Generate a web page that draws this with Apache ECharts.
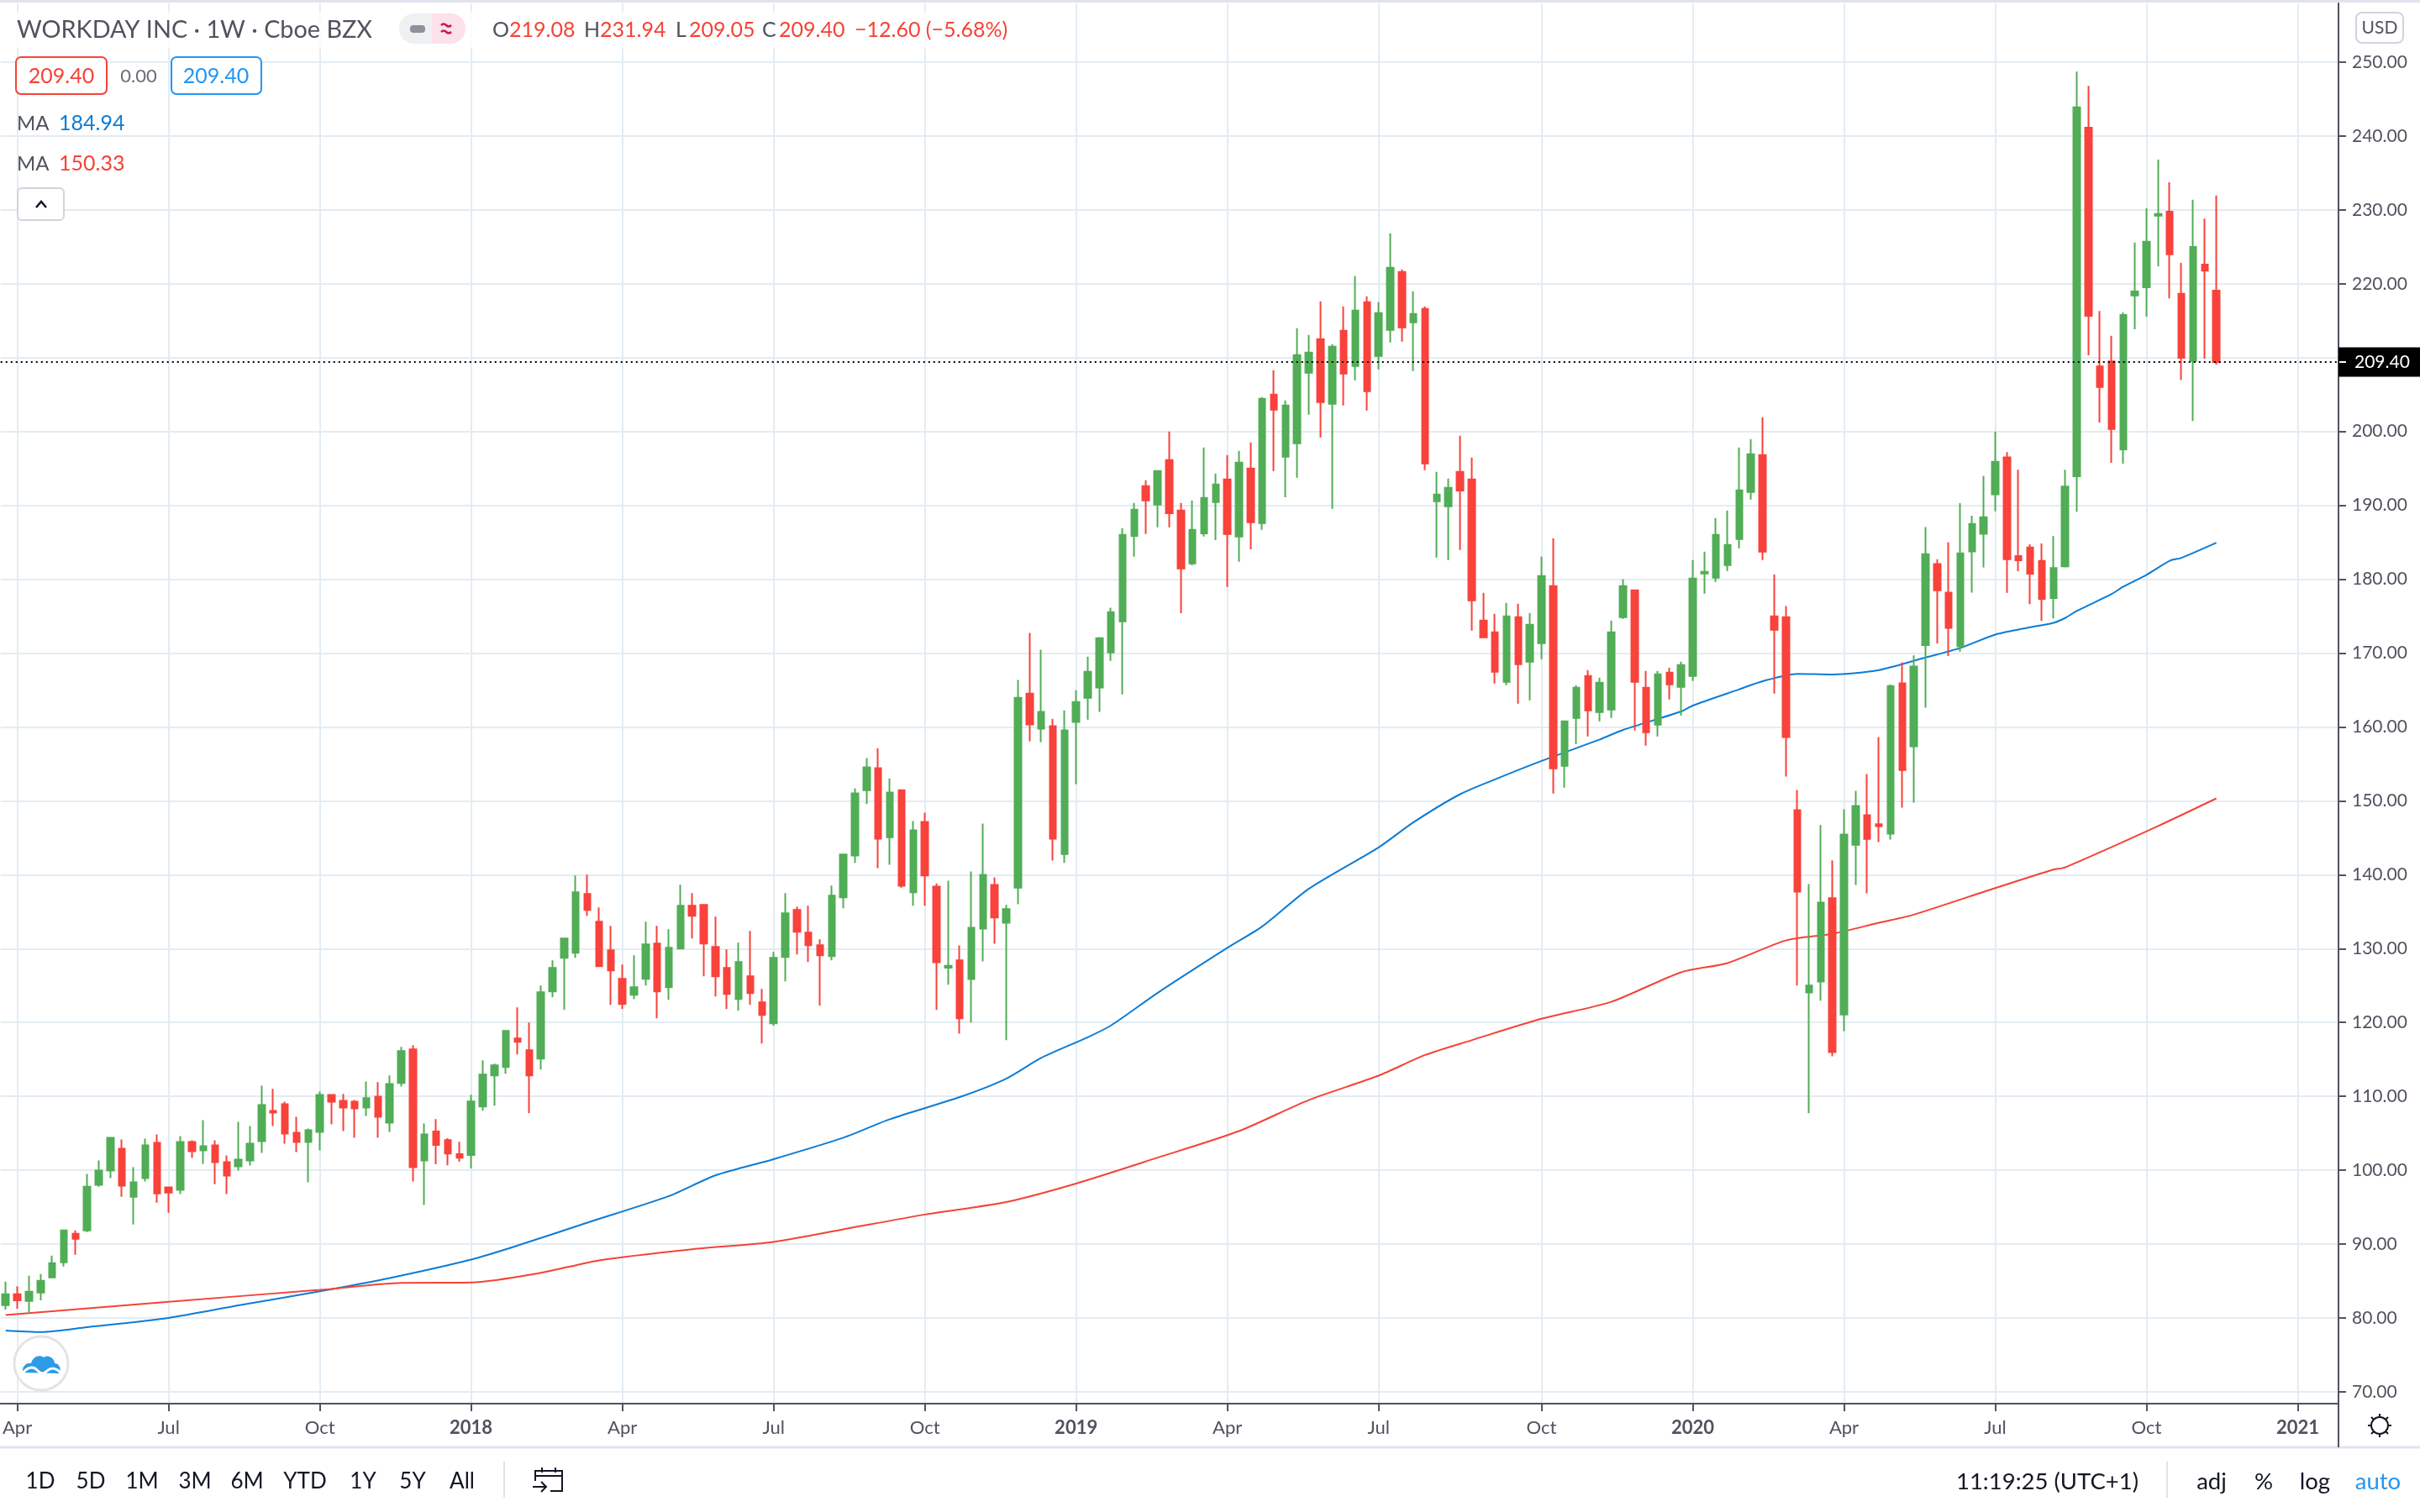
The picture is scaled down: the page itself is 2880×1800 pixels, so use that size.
<!DOCTYPE html>
<html>
<head>
<meta charset="utf-8">
<style>html,body{margin:0;padding:0;background:#fff}#c{width:2880px;height:1800px}</style>
<script src="https://cdn.jsdelivr.net/npm/echarts@6/dist/echarts.min.js"></script>
</head>
<body>
<div id="c"></div>
<script>
const opens = [
81.72,83.2,82.29,83.43,85.48,87.53,91.4,91.86,98.01,99.95,
102.91,96.41,98.92,103.71,97.67,97.33,103.82,102.68,103.37,101.09,
100.52,101.31,103.93,108.04,108.95,105.07,103.82,105.19,110.2,109.4,
109.29,108.49,109.97,106.44,111.8,116.35,101.31,105.23,104.09,102.16,
102.05,108.64,112.84,113.98,117.84,116.25,115.11,124.2,128.75,129.43,
137.39,133.64,129.77,125.91,123.75,125.91,130.68,124.77,130,135.8,
135.91,130.23,127.39,123.18,126.25,122.73,119.89,128.86,135.23,132.16,
130.45,128.98,136.93,142.61,151.45,154.42,145.08,151.45,137.61,147.15,
138.39,127.43,128.4,125.88,132.7,138.63,133.51,138.26,164.52,159.77,
160.1,142.81,160.67,163.95,165.33,170.08,174.3,185.88,192.59,190.09,
196.12,189.3,182.13,186.22,190.43,193.5,185.77,194.98,187.59,204.99,
196.57,198.39,207.95,212.49,203.74,213.63,208.86,217.5,210.22,213.75,
221.59,214.77,216.59,190.55,189.87,194.53,193.52,174.41,172.82,166.11,
174.87,168.84,171.34,179.08,154.74,161.22,166.91,162.02,162.36,174.87,
178.51,165.32,160.31,167.36,165.43,166.91,180.78,180.21,181.92,185.44,
191.81,196.82,174.98,174.87,148.75,124.06,125.55,136.82,121.09,144.06,
148.05,146.84,145.55,165.92,157.38,171.07,182.05,178.2,170.9,183.75,
186.15,191.5,196.5,183.13,184.29,182.47,177.45,181.75,193.94,241.12,
208.82,209.48,197.57,218.41,219.52,229.22,229.77,218.63,209.54,222.6,
219.08];
const highs = [
84.91,84.3,85.7,85.93,88.44,91.97,91.86,99.49,101.31,104.5,
104.16,100.4,104.28,104.85,97.78,104.62,104.05,106.78,104.05,102,
106.56,105.99,111.45,111,109.29,107.24,105.64,110.66,110.2,110.32,
109.52,112.02,111.91,112.82,116.7,116.92,106.33,106.93,104.32,103.86,
110.23,114.89,114.43,118.86,122.05,120,125,128.41,131.36,139.89,
140,135.57,133.07,127.84,129.09,133.64,133.07,132.61,138.64,137.5,
136.02,134.32,129.89,130.8,132.39,124.55,129.55,137.5,135.68,135.8,
131.25,138.52,142.84,151.7,155.8,157.13,153.04,151.45,147.27,148.41,
138.83,139.2,130.43,140.45,146.91,139.64,135.91,166.35,172.72,170.45,
161.11,162.25,164.97,169.51,172.15,176.13,186.91,190.32,193.39,194.75,
200,190.32,190.66,197.82,194.3,196.8,197.37,198.51,204.65,208.29,
204.19,213.97,213.06,217.61,211.81,216.93,221.02,218.29,217.5,226.82,
221.93,218.98,216.93,194.53,193.62,199.42,196.47,178.17,175.32,176.8,
176.69,175.44,183.06,185.56,160.88,165.66,167.7,166.68,174.41,180,
178.62,167.59,167.59,168,168.84,182.6,183.74,188.29,189.31,197.84,
198.98,201.93,180.67,176.36,151.48,138.72,146.71,141.93,148.84,151.35,
153.62,158.63,165.78,168.75,169.68,187.05,182.7,185,190.3,188.6,
194,200,197.2,194.82,184.73,184.84,185.83,194.82,248.73,246.8,
216.32,212.95,216.1,225.58,230.21,236.82,233.74,222.82,231.37,228.83,
231.94];
const lows = [
81.15,81.26,80.6,82.4,85.36,86.96,88.55,91.63,97.78,98.92,
96.41,92.65,98.47,95.62,94.25,96.76,101.66,100.86,98.12,96.76,
99.95,100.63,102.34,105.99,103.59,102.45,98.35,102.68,106.21,105.3,
104.39,107.35,104.39,105.19,111.34,98.47,95.28,100.8,100.68,101.14,
100.23,108.07,108.75,113.07,115.68,107.73,113.64,123.41,121.7,128.75,
134.43,127.5,122.39,121.82,123.18,125,120.57,123.07,130,131.36,
126.25,123.52,121.82,121.59,122.39,117.16,119.55,125.57,129.2,128.18,
122.27,128.41,135.45,141.59,149.55,140.9,141.35,138.26,135.79,135.79,
121.7,125.11,118.5,120,128.28,130.67,117.61,135.99,158.07,157.95,
141.92,141.59,152.26,160.99,162.05,168.94,164.4,183.04,186.11,187.02,
187.02,175.4,181.9,185.77,185.31,178.95,182.36,184.06,186.68,194.64,
191.11,193.73,202.26,199.19,189.52,203.51,206.92,202.83,208.4,212.04,
212.15,208.17,194.75,182.93,182.59,183.95,173.05,172.14,165.88,165.66,
163.15,163.61,169.18,150.99,151.78,157.7,158.72,160.77,161.22,174.64,
159.51,157.47,158.72,163.72,161.56,166.22,178.05,179.64,181.12,184.19,
190.79,182.6,164.52,153.29,124.99,107.73,122.95,115.43,118.82,138.63,
137.47,144.43,144.76,149.07,149.77,162.6,171.3,169.6,170.2,178.2,
181.6,189.2,178.15,181.09,176.63,174.37,174.7,181.59,189.14,210.31,
201.21,195.76,195.65,213.84,215.55,222.38,218.03,207,201.43,209.87,
209.05];
const closes = [
83.2,82.4,83.54,85.02,87.41,91.86,90.72,97.78,99.95,104.39,
97.9,98.35,103.37,96.87,96.98,103.82,102.57,103.25,101.09,99.26,
101.43,103.59,108.83,107.81,104.96,103.82,105.42,110.2,109.29,108.49,
108.38,109.75,107.24,111.68,116.13,100.4,104.85,103.41,102.27,101.7,
109.32,112.95,114.2,118.86,117.39,112.84,124.09,127.39,131.36,137.61,
135.23,127.61,127.05,122.5,124.77,130.57,124.2,130.11,135.8,134.43,
130.68,126.25,123.86,128.18,123.98,121.02,128.75,134.77,132.27,130.45,
129.09,137.16,142.73,151.01,154.54,144.88,151.13,138.51,146.01,139.89,
128.16,127.67,120.57,132.82,139.97,134.2,135.34,163.95,160.34,162.05,
144.88,159.53,163.38,167.48,172.03,175.56,186,189.41,190.66,194.64,
188.95,181.45,186.68,191,192.82,186.11,195.78,187.7,204.42,202.94,
203.51,210.33,210.67,203.97,211.47,207.83,216.36,205.44,216.02,222.16,
214.09,215.91,195.66,191.46,192.37,192.02,177.14,172.14,167.48,174.98,
168.5,173.84,180.44,154.4,160.77,165.32,162.24,166,172.82,179.08,
166.11,159.29,167.13,165.77,168.38,180.1,181,186.01,184.65,192.04,
196.93,183.74,173.16,158.63,137.7,124.99,136.22,115.99,145.45,149.3,
144.85,146.57,165.55,154.18,168.19,183.4,178.5,173.4,183.5,187.5,
188.4,195.9,182.7,182.58,180.76,177.34,181.53,192.56,243.88,215.66,
206.01,200.33,215.77,218.96,225.69,229.44,223.98,209.98,224.97,221.78,
209.4];

const maBlueIdx = [0,3,7,14,20,27,33,40,44,50,57,61,66,72,76,82,86,89,93,95,99,105,108,112,118,121,125,128,132,137,139,144,145,149,151,154,157,161,165,168,171,174,176,177,178,181,182,184,186,187,190];
const maBlueVal = [78.3,78.1,78.75,80,81.7,83.6,85.4,87.9,89.8,92.9,96.5,99.3,101.5,104.4,106.9,109.9,112.4,115.2,118,119.6,124,130.1,133,138.1,143.7,147.1,150.9,152.9,155.4,158.3,159.6,162.1,162.9,165.1,166.2,167.2,167.1,167.7,169.4,170.7,172.5,173.5,174.1,174.75,175.7,178,179,180.6,182.5,182.9,184.94];
const maRedIdx = [0,14,27,34,40,46,51,59,66,72,79,86,92,99,106,112,118,122,126,132,138,144,148,153,157,161,164,171,176,177,185,190];
const maRedVal = [80.4,82.2,83.8,84.75,84.8,86.1,87.8,89.3,90.3,92,94,95.7,98.2,101.7,105.3,109.5,112.8,115.6,117.6,120.5,122.8,126.8,128.05,131.1,132,133.5,134.6,138.2,140.7,141,146.6,150.33];

const xTickIdx = [1,14,27,40,53,66,79,92,105,118,132,145,158,171,184,197];
const xTickLabels = ['Apr','Jul','Oct','2018','Apr','Jul','Oct','2019','Apr','Jul','Oct','2020','Apr','Jul','Oct','2021'];
const yTicks = [70,80,90,100,110,120,130,140,150,160,170,180,190,200,210,220,230,240,250];

const headerTitle = 'WORKDAY INC · 1W · Cboe BZX';
const rangeButtons = ['1D','5D','1M','3M','6M','YTD','1Y','5Y','All'];
const clockText = '11:19:25 (UTC+1)';
const changeText = '−12.60 (−5.68%)';

const FONT = 'Lato, sans-serif';
const UP = '#51AD56', DOWN = '#F8423B', BLUE = '#0C7CD5', MAROON = '#F44336';
const AXC = '#50535E', GRID = '#E3ECF3', INK = '#131722', SEP = '#E0E3EB';
const last = closes.length - 1;
const fmt = v => v.toFixed(2);

const candles = opens.map((o, i) => [i, o, closes[i], lows[i], highs[i]]);

let shapeCount = 0;
function txt(text, x, y, size, fill, align, weight) {
  return {type:'text', z:50, silent:true, style:{text:text, x:x, y:y, fill:fill, align:align||'left', verticalAlign:'middle', font:(weight||'normal')+' '+size+'px '+FONT}};
}
function box(x, y, w, h, stroke, r, fill) {
  return {type:'rect', z:49, silent:true, shape:{x:x,y:y,width:w,height:h,r:r||0}, style:{fill:fill||'none', stroke:stroke, lineWidth:2}};
}
function seg(x1,y1,x2,y2,c,w) {
  return {type:'line', z:49, silent:true, shape:{x1:x1,y1:y1,x2:x2,y2:y2}, style:{stroke:c,lineWidth:w||2}};
}
function pth(d, stroke, fill, w) {
  const name = 'iconShape' + (shapeCount++);
  echarts.graphic.registerShape(name, echarts.graphic.extendPath(d, {}));
  return {type:name, z:50, silent:true, style:{stroke:stroke||'none', fill:fill||'none', lineWidth:w||2}};
}

const gfx = [];
// frame lines
gfx.push({type:'rect',z:48,silent:true,shape:{x:0,y:0,width:2880,height:3},style:{fill:SEP}});
gfx.push(seg(0,1723,2880,1723,SEP,3));
gfx.push(seg(2783,1671,2783,1723,AXC,2));
// header
gfx.push({type:'rect',z:40,silent:true,shape:{x:16,y:14,width:1190,height:44},style:{fill:'rgba(255,255,255,0.8)'}});
gfx.push(txt(headerTitle,20,36,28.8,AXC));
gfx.push(pth('M514 16 H493 A18 18 0 0 0 493 52 H514 Z','none','#EFF0F2'));
gfx.push(pth('M514 16 H536 A18 18 0 0 1 536 52 H514 Z','none','#FCE1E9'));
gfx.push({type:'rect',z:50,silent:true,shape:{x:488,y:30,width:18,height:9,r:4},style:{fill:'#8E919B'}});
gfx.push(pth('M525 30 q3 -3 6 0 t6 0 M525 38 q3 -3 6 0 t6 0','#C2185B','none',2.5));
const ohlc = [['O',586,opens[last],606],['H',695,highs[last],714],['L',804,lows[last],820],['C',907,closes[last],927]];
ohlc.forEach(a => { gfx.push(txt(a[0],a[1],36,25,AXC)); gfx.push(txt(fmt(a[2]),a[3],36,25,MAROON)); });
gfx.push(txt(changeText,1017,36,25,MAROON));
// bid/ask
gfx.push(box(19,68,108,44,MAROON,6,'#fff'));
gfx.push(txt(fmt(closes[last]),73,91,25,MAROON,'center'));
gfx.push(txt('0.00',165,91,22,'#6A6D78','center'));
gfx.push(box(204,68,107,44,'#2196F3',6,'#fff'));
gfx.push(txt(fmt(closes[last]),257,91,25,'#2196F3','center'));
// MA labels
gfx.push(txt('MA',20,147,24,AXC));
gfx.push(txt(fmt(maBlueVal[maBlueVal.length-1]),70,147,25,BLUE));
gfx.push(txt('MA',20,195,24,AXC));
gfx.push(txt(fmt(maRedVal[maRedVal.length-1]),70,195,25,MAROON));
gfx.push(box(21,224,55,38,'#D1D4DC',5,'#fff'));
gfx.push(pth('M43 247 L49 240 L55 247',INK,'none',2.5));
// USD
gfx.push(box(2804,15,56,36,'#D1D4DC',7,'#fff'));
gfx.push(txt('USD',2832,33,21,AXC,'center'));
// logo
gfx.push({type:'circle',z:49,silent:true,shape:{cx:49,cy:1623,r:32},style:{fill:'#fff',stroke:'#E4E4E4',lineWidth:3}});
gfx.push(pth('M27 1634 C26 1626 32 1622 37 1623 C39 1615 47 1612 52 1616 C56 1612 65 1616 65 1623 C71 1623 73 1630 71 1635 Z','none','#2E9BE6'));
gfx.push(pth('M25 1636 C31 1630 37 1625 43 1630 C48 1635 51 1637 56 1632 C60 1628 66 1628 72 1634','#fff','none',3));
// x-axis corner icon
gfx.push({type:'circle',z:50,silent:true,shape:{cx:2832,cy:1697,r:10},style:{fill:'none',stroke:INK,lineWidth:2}});
gfx.push(pth('M2832 1683 V1687 M2832 1707 V1711 M2818 1697 H2822 M2842 1697 H2846 M2822 1687 L2825 1690 M2842 1687 L2839 1690 M2822 1707 L2825 1704 M2842 1707 L2839 1704',INK,'none',2));
// bottom toolbar
const btnX = [48,108,169,232,294,363,432,491,550];
rangeButtons.forEach((t,i) => gfx.push(txt(t,btnX[i],1764,26,INK,'center')));
gfx.push(seg(600,1740,600,1783,SEP,2));
gfx.push(pth('M637 1763 V1751 H669 V1775 H655 M637 1757 H669 M645 1747 V1753 M661 1747 V1753 M634 1770 H650 M644 1764 L650 1770 L644 1776',INK,'none',2));
gfx.push(txt(clockText,2545,1764,27.5,INK,'right'));
gfx.push(seg(2579,1740,2579,1783,SEP,2));
gfx.push(txt('adj',2632,1764,27.5,INK,'center'));
gfx.push(txt('%',2694,1764,27.5,INK,'center'));
gfx.push(txt('log',2755,1764,27.5,INK,'center'));
gfx.push(txt('auto',2830,1764,27.5,'#2196F3','center'));
gfx.push(seg(2784,431,2792,431,'#fff',2));

const chart = echarts.init(document.getElementById('c'), null, {renderer:'canvas', width:2880, height:1800});
chart.setOption({
  animation:false,
  backgroundColor:'#fff',
  grid:{left:0,right:97,top:4,bottom:129,containLabel:false},
  xAxis:{
    type:'value', min:-0.433, max:200.5, scale:true,
    axisLine:{show:true,onZero:false,lineStyle:{color:AXC,width:2}},
    axisTick:{show:true,length:9,customValues:xTickIdx,lineStyle:{color:AXC,width:2}},
    splitLine:{show:true,lineStyle:{color:GRID,width:2}},
    axisLabel:{
      customValues:xTickIdx, margin:18, color:AXC, fontFamily:FONT, fontSize:22,
      formatter:function(v){ const l = xTickLabels[xTickIdx.indexOf(v)]; return /^\d/.test(l) ? '{b|'+l+'}' : l; },
      rich:{b:{fontWeight:'bold',color:AXC,fontFamily:FONT,fontSize:22}}
    }
  },
  yAxis:{
    type:'value', position:'right', min:68.4, max:257.96, scale:true,
    axisLine:{show:true,onZero:false,lineStyle:{color:AXC,width:2}},
    axisTick:{show:true,length:9,customValues:yTicks,lineStyle:{color:AXC,width:2}},
    splitLine:{show:true,lineStyle:{color:GRID,width:2}},
    axisLabel:{customValues:yTicks,margin:16,color:AXC,fontFamily:FONT,fontSize:21,formatter:function(v){return v.toFixed(2);}}
  },
  series:[
    {
      type:'line', name:'MA blue', data:maBlueIdx.map((x,i)=>[x,maBlueVal[i]]),
      showSymbol:false, symbol:'none', z:3, silent:true, smooth:0.25, lineStyle:{color:BLUE,width:2}
    },
    {
      type:'line', name:'MA red', data:maRedIdx.map((x,i)=>[x,maRedVal[i]]),
      showSymbol:false, symbol:'none', z:3, silent:true, smooth:0.25, lineStyle:{color:MAROON,width:2}
    },
    {
      type:'candlestick', name:'WDAY', data:candles, z:4, barWidth:8, silent:true,
      encode:{x:0,y:[1,2,3,4]},
      itemStyle:{color:UP,color0:DOWN,borderColor:UP,borderColor0:DOWN,borderWidth:2},
      markLine:{
        silent:true, symbol:'none', z:10, animation:false,
        lineStyle:{color:'#000',type:[2,4],width:2},
        data:[{yAxis:closes[last]}],
        label:{
          show:true, position:'end', distance:0, formatter:function(){return fmt(closes[last]);},
          backgroundColor:'#000', color:'#fff', fontFamily:FONT, fontSize:21,
          padding:[7,14,7,19]
        }
      }
    }
  ],
  graphic:{elements:gfx}
});
</script>
</body>
</html>
